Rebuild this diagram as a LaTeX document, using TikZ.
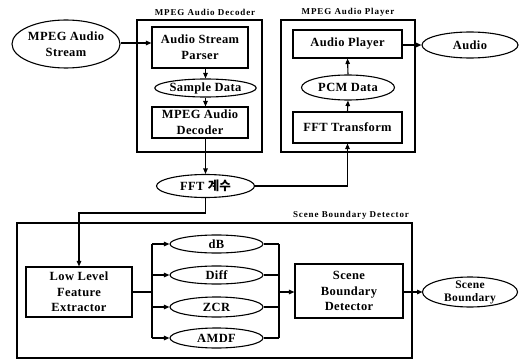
\documentclass[tikz,border=0pt]{standalone}
\usepackage{fontspec}
\setmainfont{Liberation Serif}[LetterSpace=3]
\newfontfamily\ttlfont{Liberation Serif}[LetterSpace=10]
\newfontfamily\kr{Noto Sans CJK KR}
\usetikzlibrary{shapes.geometric,arrows.meta}
\begin{document}
\begin{tikzpicture}[x=1pt,y=-1pt,
  every node/.style={font=\bfseries\fontsize{12.5}{16}\selectfont, align=center, inner sep=0pt},
  box/.style={draw, line width=1.1pt, rectangle},
  oval/.style={draw, line width=1.1pt, ellipse},
  frame/.style={draw, line width=1.1pt, rectangle},
  ttl/.style={font=\ttlfont\bfseries\fontsize{9}{10}\selectfont},
  arr/.style={line width=1.1pt, -{Triangle[length=5.5pt,width=4.5pt]}},
  ln/.style={line width=1.1pt}]
\useasboundingbox (0,0) rectangle (519,361);
% frames
\node[frame, minimum width=125, minimum height=132] (fdec) at (199.5,86) {};
\node[ttl] (tdec) at (205,12) {MPEG Audio Decoder};
\node[frame, minimum width=134, minimum height=132] (fply) at (348,86) {};
\node[ttl] (tply) at (348,12) {MPEG Audio Player};
\node[frame, minimum width=395, minimum height=135] (fsbd) at (214.5,290.5) {};
\node[ttl] (tsbd) at (351,215) {Scene Boundary Detector};
% decoder
\node[oval, minimum width=108, minimum height=48] (stream) at (66,44) {MPEG Audio\\Stream};
\node[box, minimum width=96, minimum height=41] (parser) at (200,47.5) {Audio Stream\\Parser};
\node[oval, minimum width=92, minimum height=18] (sample) at (205.5,88) {Sample Data};
\node[box, minimum width=96, minimum height=31] (mdec) at (200,122.5) {MPEG Audio\\Decoder};
\node[oval, minimum width=98, minimum height=23] (fft) at (205.5,186) {FFT {\kr 계수}};
% player
\node[box, minimum width=109, minimum height=28] (aply) at (347.5,44) {Audio Player};
\node[oval, minimum width=93, minimum height=25] (pcm) at (348,87.5) {PCM Data};
\node[box, minimum width=109, minimum height=31] (ffttr) at (347.5,127.5) {FFT Transform};
\node[oval, minimum width=96, minimum height=26] (audio) at (470,45) {Audio};
% scene boundary
\node[box, minimum width=106, minimum height=50, font=\bfseries\fontsize{12.5}{15.3}\selectfont] (llf) at (79,292) {Low Level\\Feature\\Extractor};
\node[oval, minimum width=93, minimum height=18] (db) at (216.5,244) {dB};
\node[oval, minimum width=93, minimum height=18] (diff) at (216.5,275) {Diff};
\node[oval, minimum width=93, minimum height=20] (zcr) at (216.5,307) {ZCR};
\node[oval, minimum width=93, minimum height=20] (amdf) at (216.5,338) {AMDF};
\node[box, minimum width=108, minimum height=54, font=\bfseries\fontsize{12.5}{15.3}\selectfont] (sbd) at (349,291) {Scene\\Boundary\\Detector};
\node[oval, minimum width=95, minimum height=30, inner sep=0pt, outer sep=0pt] (scene) at (470,292) {};
\node[font=\bfseries\fontsize{11.5}{12.5}\selectfont] (scenet) at (470,292.5) {Scene\\Boundary};
% coordinates
\coordinate (k1) at (205.5,213);
\coordinate (bL) at (152,292);
\coordinate (bR) at (279,292);
% connectors
\draw[arr] (stream.east |- 0,43) -- (parser.west |- 0,43);
\draw[arr] (sample.north |- parser.south) -- (sample.north);
\draw[arr] (sample.south) -- (sample.south |- mdec.north);
\draw[arr] (sample.south |- mdec.south) -- (fft.north);
\draw[arr] (fft.east) -| (ffttr.south);
\draw[arr] (ffttr.north) -- (pcm.south);
\draw[arr] (pcm.north) -- (aply.south);
\draw[arr] (aply.east |- audio.west) -- (audio.west);
\draw[arr] (fft.south) -- (k1) -| (llf.north);
\draw[ln] (llf.east |- bL) -- (bL);
\draw[ln] (bL |- db.west) -- (bL |- amdf.west);
\draw[arr] (bL |- db.west) -- (db.west);
\draw[arr] (bL |- diff.west) -- (diff.west);
\draw[arr] (bL |- zcr.west) -- (zcr.west);
\draw[arr] (bL |- amdf.west) -- (amdf.west);
\draw[ln] (db.east) -- (bR |- db.east);
\draw[ln] (diff.east) -- (bR |- diff.east);
\draw[ln] (zcr.east) -- (bR |- zcr.east);
\draw[ln] (amdf.east) -- (bR |- amdf.east);
\draw[ln] (bR |- db.east) -- (bR |- amdf.east);
\draw[arr] (bR) -- (sbd.west |- bR);
\draw[arr] (sbd.east |- scene.west) -- (scene.west);
\end{tikzpicture}
\end{document}
